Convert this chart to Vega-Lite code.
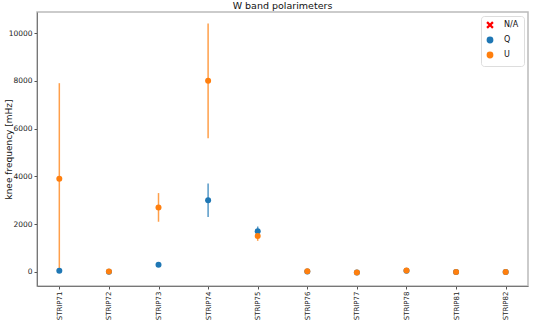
{
  "$schema": "https://vega.github.io/schema/vega-lite/v6.json",
  "autosize": {"type": "none"},
  "width": 491,
  "height": 274,
  "padding": {"left": 37, "top": 12, "right": 5, "bottom": 34},
  "background": "white",
  "title": {"text": "W band polarimeters", "fontSize": 9.5, "fontWeight": "normal", "font": "DejaVu Sans", "color": "#111111", "offset": 2, "anchor": "middle"},
  "data": {"values": [
    {"strip": "STRIP71", "pol": "Q", "value": 50, "lo": 0, "hi": 120},
    {"strip": "STRIP72", "pol": "Q", "value": 10, "lo": 10, "hi": 10},
    {"strip": "STRIP73", "pol": "Q", "value": 300, "lo": 250, "hi": 350},
    {"strip": "STRIP74", "pol": "Q", "value": 3000, "lo": 2300, "hi": 3700},
    {"strip": "STRIP75", "pol": "Q", "value": 1700, "lo": 1500, "hi": 1900},
    {"strip": "STRIP76", "pol": "Q", "value": 15, "lo": 15, "hi": 15},
    {"strip": "STRIP77", "pol": "Q", "value": -20, "lo": -20, "hi": -20},
    {"strip": "STRIP78", "pol": "Q", "value": 50, "lo": 50, "hi": 50},
    {"strip": "STRIP81", "pol": "Q", "value": 0, "lo": 0, "hi": 0},
    {"strip": "STRIP82", "pol": "Q", "value": 0, "lo": 0, "hi": 0},
    {"strip": "STRIP71", "pol": "U", "value": 3900, "lo": 100, "hi": 7900},
    {"strip": "STRIP72", "pol": "U", "value": 20, "lo": 20, "hi": 20},
    {"strip": "STRIP73", "pol": "U", "value": 2700, "lo": 2100, "hi": 3300},
    {"strip": "STRIP74", "pol": "U", "value": 8000, "lo": 5600, "hi": 10400},
    {"strip": "STRIP75", "pol": "U", "value": 1500, "lo": 1300, "hi": 1700},
    {"strip": "STRIP76", "pol": "U", "value": 30, "lo": 30, "hi": 30},
    {"strip": "STRIP77", "pol": "U", "value": -20, "lo": -20, "hi": -20},
    {"strip": "STRIP78", "pol": "U", "value": 60, "lo": 60, "hi": 60},
    {"strip": "STRIP81", "pol": "U", "value": 0, "lo": 0, "hi": 0},
    {"strip": "STRIP82", "pol": "U", "value": 0, "lo": 0, "hi": 0}
  ]},
  "encoding": {
    "x": {"field": "strip", "type": "nominal", "sort": null,
      "scale": {"type": "point", "padding": 0.45},
      "axis": {"title": null, "labelAngle": -90, "labelFontSize": 7, "tickSize": 3, "labelPadding": 2}}
  },
  "layer": [
    {
      "mark": {"type": "rule", "strokeWidth": 1.5, "opacity": 0.75},
      "encoding": {
        "y": {"field": "lo", "type": "quantitative",
          "scale": {"domain": [-590, 10880], "nice": false, "zero": false},
          "axis": {"title": "knee frequency [mHz]", "titleFontSize": 9, "titleFontWeight": "normal", "labelFontSize": 7.5, "tickSize": 3, "format": "d", "values": [0, 2000, 4000, 6000, 8000, 10000], "titleX": -24, "titleBaseline": "bottom", "titleAngle": -90}},
        "y2": {"field": "hi"},
        "color": {"field": "pol", "type": "nominal",
          "scale": {"domain": ["N/A", "Q", "U"], "range": ["#ff0000", "#1f77b4", "#ff7f0e"]}}
      }
    },
    {
      "mark": {"type": "point", "filled": true, "opacity": 1, "size": 36},
      "encoding": {
        "y": {"field": "value", "type": "quantitative"},
        "shape": {"field": "pol", "type": "nominal",
          "scale": {"domain": ["N/A", "Q", "U"], "range": ["M-1,-0.8L-0.8,-1L0,-0.2L0.8,-1L1,-0.8L0.2,0L1,0.8L0.8,1L0,0.2L-0.8,1L-1,0.8L-0.2,0Z", "circle", "circle"]}},
        "color": {"field": "pol", "type": "nominal",
          "scale": {"domain": ["N/A", "Q", "U"], "range": ["#ff0000", "#1f77b4", "#ff7f0e"]}}
      }
    }
  ],
  "config": {
    "font": "DejaVu Sans",
    "view": {"stroke": "#bbbbbb", "strokeWidth": 1.5},
    "axis": {"grid": false, "domainColor": "#777777", "tickColor": "#555555", "labelColor": "#222222", "titleColor": "#111111", "labelFont": "DejaVu Sans", "titleFont": "DejaVu Sans"},
    "legend": {"title": null, "orient": "top-right", "offset": 4, "labelFontSize": 8, "symbolSize": 28, "strokeColor": "#dddddd", "padding": 5, "cornerRadius": 3, "rowPadding": 3, "labelOffset": 10, "fillColor": "white", "symbolOpacity": 1, "labelFont": "DejaVu Sans", "labelColor": "#111111"}
  }
}
